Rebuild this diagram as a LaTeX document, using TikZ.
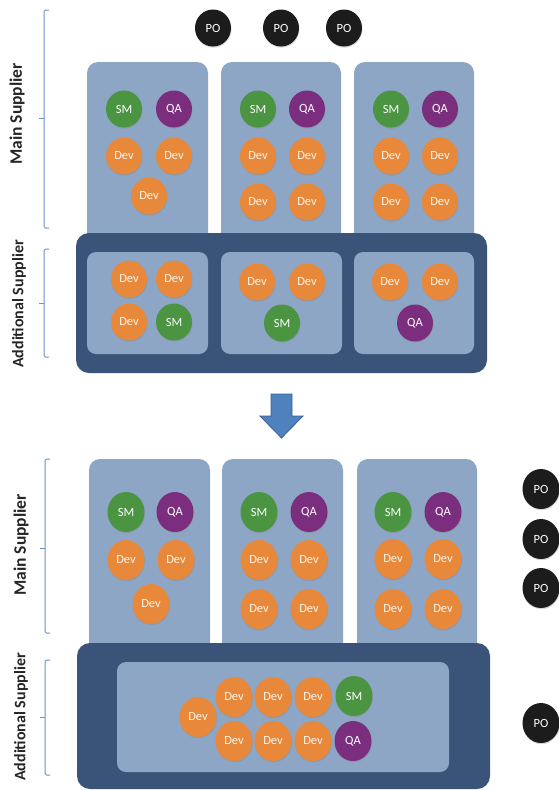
\documentclass[tikz,border=0pt]{standalone}
\usepackage{fontspec}
\setmainfont{Carlito}
\usetikzlibrary{shapes.geometric,shadows}
\definecolor{lightbox}{HTML}{8EA6C5}
\definecolor{darkbox}{HTML}{3A5479}
\definecolor{devc}{HTML}{E8883A}
\definecolor{smc}{HTML}{4A9442}
\definecolor{qac}{HTML}{7C2E7E}
\definecolor{poc}{HTML}{1C1C1C}
\definecolor{brk}{HTML}{6A93C8}
\definecolor{arrowc}{HTML}{4F81BD}
\definecolor{arrowd}{HTML}{3A6090}
\tikzset{
  role/.style={ellipse, minimum width=36pt, minimum height=37pt, inner sep=0pt,
    text=white, font=\fontsize{12.5}{13}\selectfont,
    drop shadow={shadow xshift=0.5pt, shadow yshift=-1.2pt, opacity=0.3}},
  big/.style={minimum width=37pt, minimum height=40pt},
  dev/.style={role, fill=devc, text=white!92!orange},
  sm/.style={role, fill=smc},
  qa/.style={role, fill=qac},
  po/.style={role, fill=poc},
  lbl/.style={rotate=90, font=\bfseries\fontsize{16}{17}\selectfont, text=black!85, inner sep=0pt},
  lblm/.style={lbl, font=\bfseries\fontsize{17.5}{18}\selectfont},
  lightfill/.style={fill=lightbox},
  darkfill/.style={fill=darkbox},
  bracket/.style={draw=brk, line width=1pt, rounded corners=1.5pt}
}
\begin{document}
\begin{tikzpicture}[x=1pt,y=-1pt]
\useasboundingbox (0,0) rectangle (559,790);
\fill[white] (0,0) rectangle (559,790);

% ---------- TOP ----------
\draw[bracket] (49,10) -- (44,10) -- (44,228) -- (49,228);
\draw[bracket] (44,118) -- (39,118);
\node[lblm] (ms1) at (17,114) {Main Supplier};
\draw[bracket] (49,249) -- (44,249) -- (44,357) -- (49,357);
\draw[bracket] (44,303) -- (39,303);
\node[lbl] (as1) at (19,304) {Additional Supplier};

\fill[lightfill, rounded corners=11pt] (87,62) rectangle (208,250);
\fill[lightfill, rounded corners=11pt] (221,62) rectangle (341,250);
\fill[lightfill, rounded corners=11pt] (354,62) rectangle (474,250);

\node[po] (po1) at (213,28) {PO};
\node[po] (po2) at (281,28) {PO};
\node[po] (po3) at (344,28) {PO};

\node[sm]  (a1sm) at (124,109) {SM};
\node[qa]  (a1qa) at (174,109) {QA};
\node[dev] (a1d1) at (124,156) {Dev};
\node[dev] (a1d2) at (174,156) {Dev};
\node[dev] (a1d3) at (149,196) {Dev};

\node[sm]  (a2sm) at (258,109) {SM};
\node[qa]  (a2qa) at (307,109) {QA};
\node[dev] (a2d1) at (258,156) {Dev};
\node[dev] (a2d2) at (307,156) {Dev};
\node[dev] (a2d3) at (258,202) {Dev};
\node[dev] (a2d4) at (307,202) {Dev};

\node[sm]  (a3sm) at (391,109) {SM};
\node[qa]  (a3qa) at (440,109) {QA};
\node[dev] (a3d1) at (391,156) {Dev};
\node[dev] (a3d2) at (440,156) {Dev};
\node[dev] (a3d3) at (391,202) {Dev};
\node[dev] (a3d4) at (440,202) {Dev};

\fill[darkfill, rounded corners=13pt] (76,233) rectangle (487,373);
\fill[lightfill, rounded corners=9pt] (87,252) rectangle (208,354);
\fill[lightfill, rounded corners=9pt] (221,252) rectangle (342,354);
\fill[lightfill, rounded corners=9pt] (354,252) rectangle (474,354);
\node[dev] (b1d1) at (129,279) {Dev};
\node[dev] (b1d2) at (174,279) {Dev};
\node[dev] (b1d3) at (129,322) {Dev};
\node[sm]  (b1sm) at (174,322) {SM};
\node[dev] (b2d1) at (257,282) {Dev};
\node[dev] (b2d2) at (307,282) {Dev};
\node[sm]  (b2sm) at (282,323) {SM};
\node[dev] (b3d1) at (390,282) {Dev};
\node[dev] (b3d2) at (440,282) {Dev};
\node[qa]  (b3qa) at (415,323) {QA};

% ---------- ARROW ----------
\filldraw[fill=arrowc, draw=arrowd, line width=0.8pt, line join=miter]
  (271,394) -- (292,394) -- (292,416) -- (303,416) -- (281.5,438) -- (260,416) -- (271,416) -- cycle;

% ---------- BOTTOM ----------
\draw[bracket] (50,459) -- (45,459) -- (45,633) -- (50,633);
\draw[bracket] (45,548) -- (40,548);
\node[lblm] (ms2) at (21,545) {Main Supplier};
\draw[bracket] (50,660) -- (45,660) -- (45,775) -- (50,775);
\draw[bracket] (45,717) -- (40,717);
\node[lbl] (as2) at (21,717) {Additional Supplier};

\fill[lightfill, rounded corners=11pt] (89,459) rectangle (210,660);
\fill[lightfill, rounded corners=11pt] (222,459) rectangle (343,660);
\fill[lightfill, rounded corners=11pt] (357,459) rectangle (477,660);

\node[sm,big]  (c1sm) at (126,512) {SM};
\node[qa,big]  (c1qa) at (175,512) {QA};
\node[dev,big] (c1d1) at (126,560) {Dev};
\node[dev,big] (c1d2) at (176,560) {Dev};
\node[dev,big] (c1d3) at (151,604) {Dev};

\node[sm,big]  (c2sm) at (259,512) {SM};
\node[qa,big]  (c2qa) at (309,512) {QA};
\node[dev,big] (c2d1) at (259,560) {Dev};
\node[dev,big] (c2d2) at (309,560) {Dev};
\node[dev,big] (c2d3) at (259,609) {Dev};
\node[dev,big] (c2d4) at (309,609) {Dev};

\node[sm,big]  (c3sm) at (393,512) {SM};
\node[qa,big]  (c3qa) at (443,512) {QA};
\node[dev,big] (c3d1) at (393,559) {Dev};
\node[dev,big] (c3d2) at (443,559) {Dev};
\node[dev,big] (c3d3) at (393,609) {Dev};
\node[dev,big] (c3d4) at (443,609) {Dev};

\node[po,big] (po4) at (541,489) {PO};
\node[po,big] (po5) at (541,539) {PO};
\node[po,big] (po6) at (541,588) {PO};

\fill[darkfill, rounded corners=13pt] (77,643) rectangle (490,789);
\fill[lightfill, rounded corners=9pt] (117,662) rectangle (449,772);
\node[dev,big] (dd0) at (198,717) {Dev};
\node[dev,big] (dd1) at (234,697) {Dev};
\node[dev,big] (dd2) at (273,697) {Dev};
\node[dev,big] (dd3) at (313,697) {Dev};
\node[sm,big]  (dsm) at (354,696) {SM};
\node[dev,big] (dd4) at (234,741) {Dev};
\node[dev,big] (dd5) at (273,741) {Dev};
\node[dev,big] (dd6) at (313,741) {Dev};
\node[qa,big]  (dqa) at (353,741) {QA};

\node[po,big] (po7) at (541,723) {PO};
\end{tikzpicture}
\end{document}
